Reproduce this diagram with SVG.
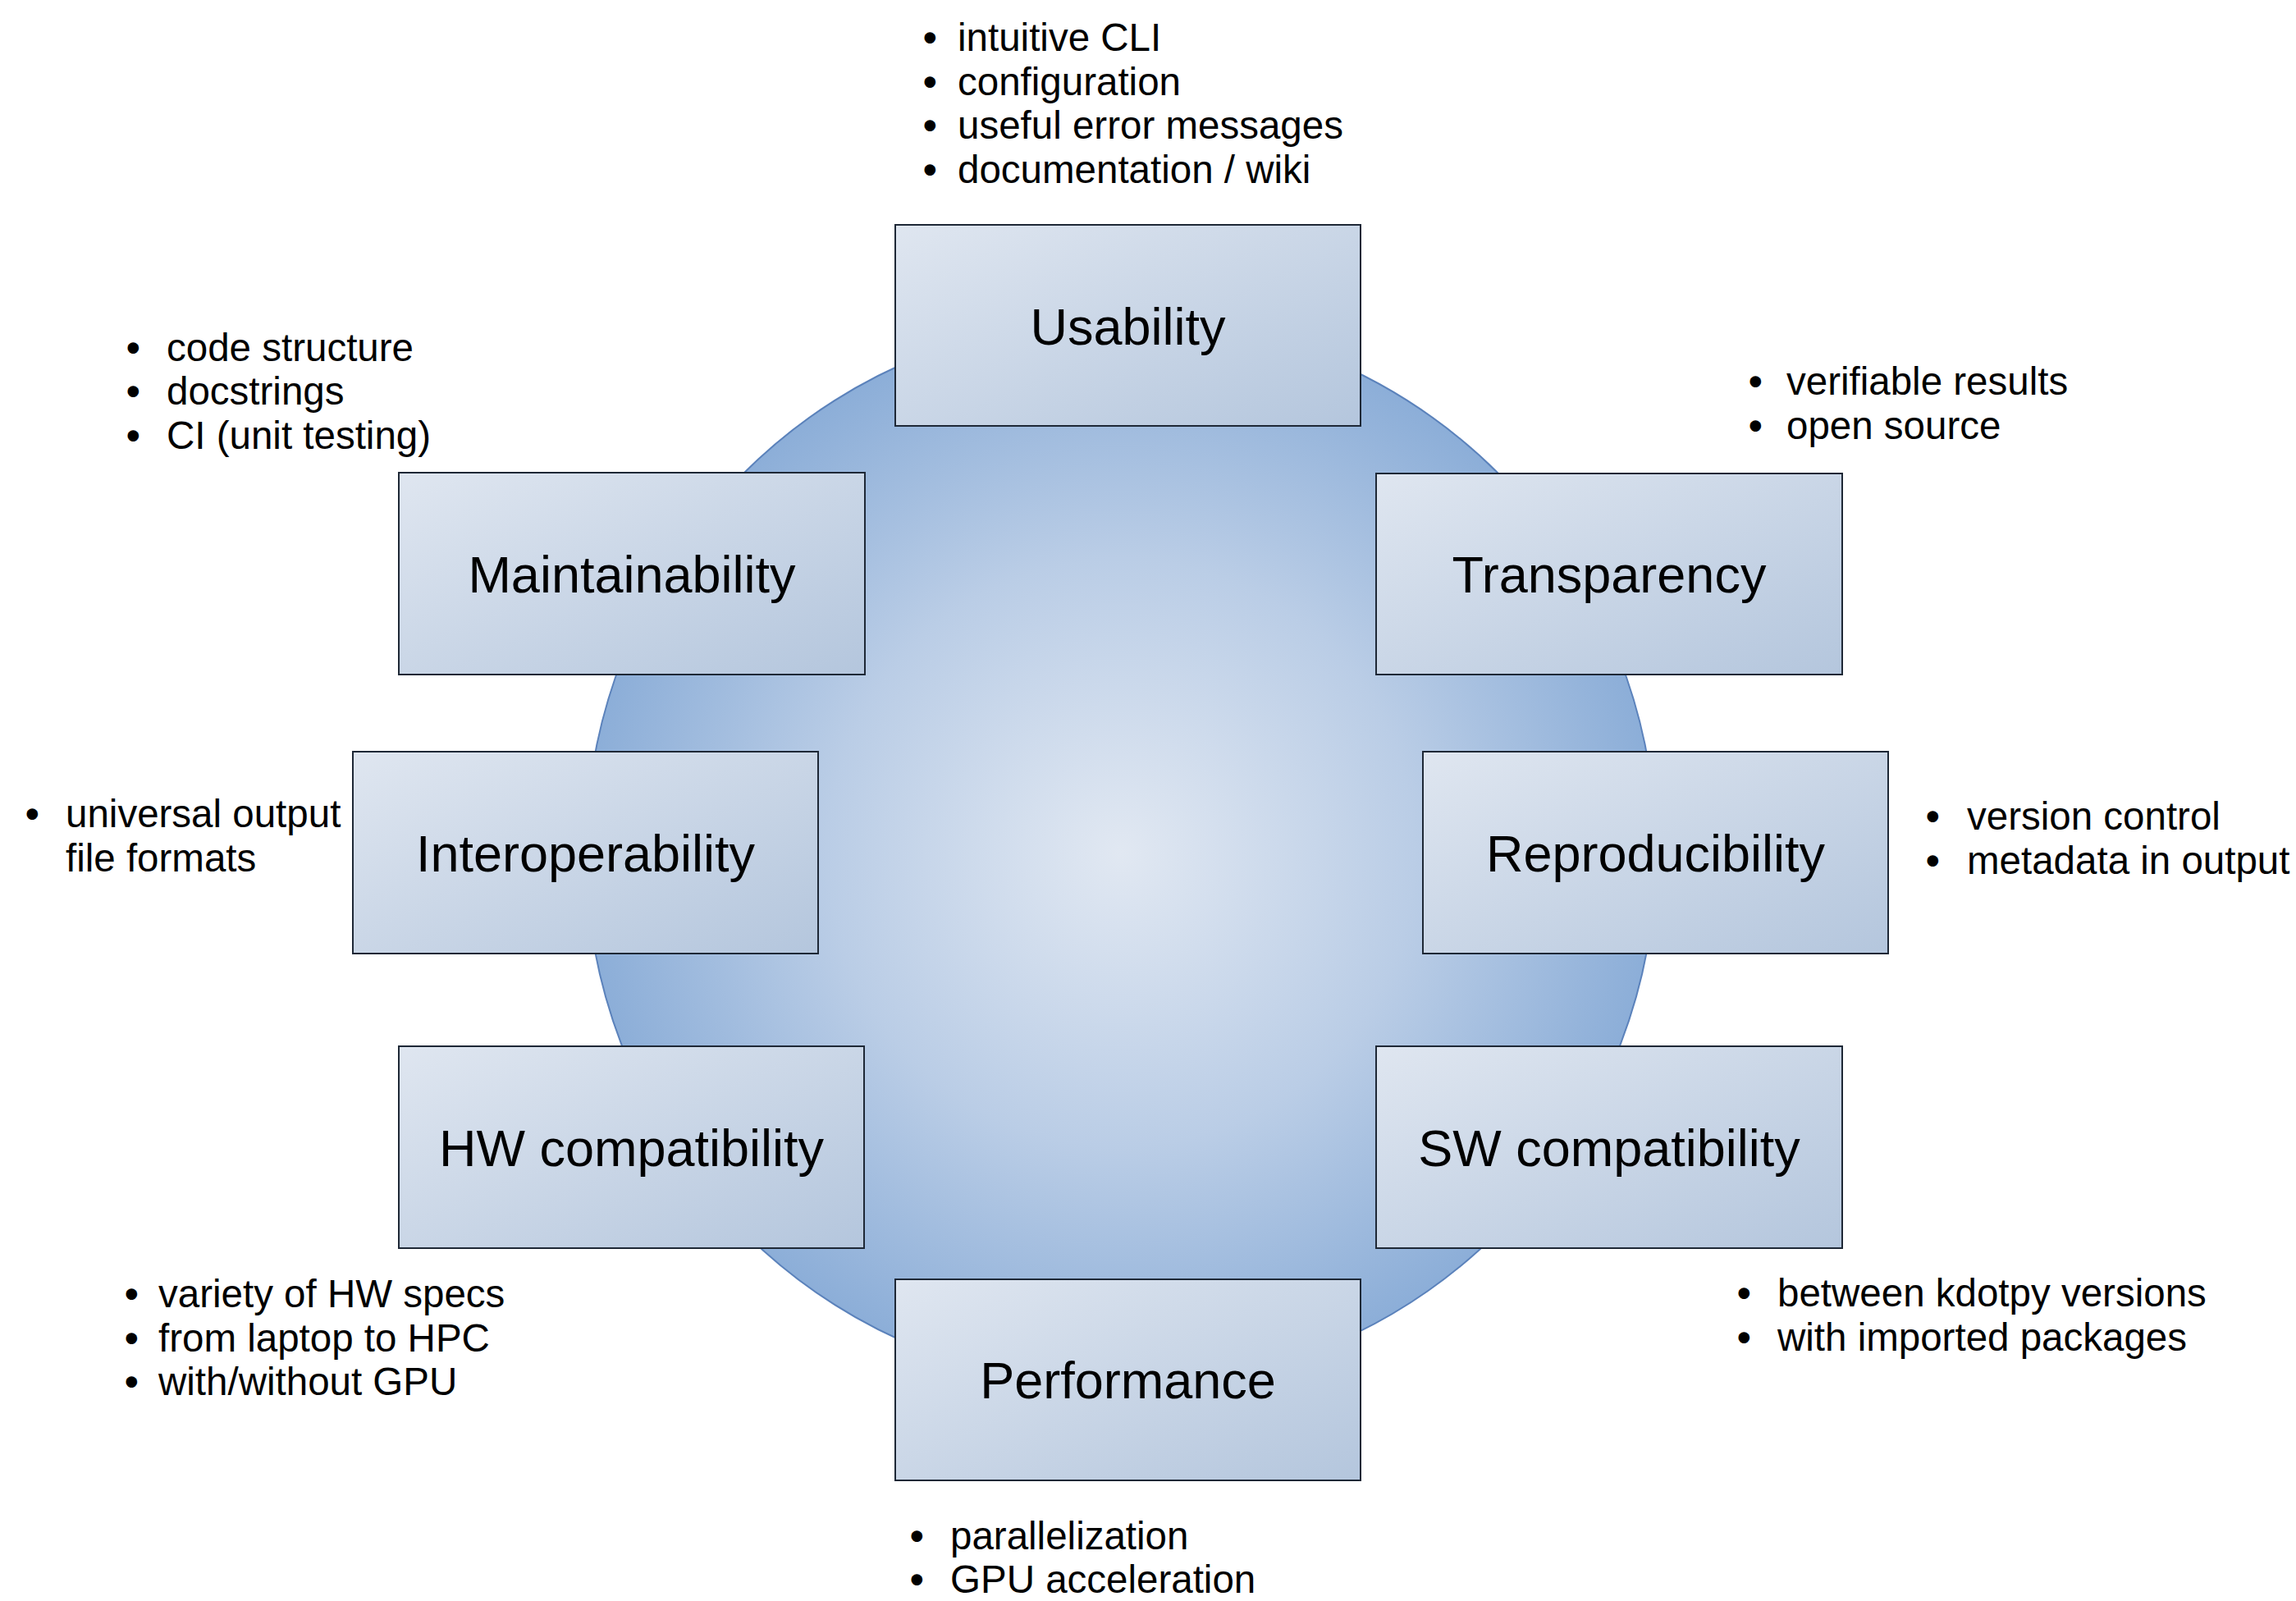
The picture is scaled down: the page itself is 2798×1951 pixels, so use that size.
<svg xmlns="http://www.w3.org/2000/svg" width="2798" height="1951" viewBox="0 0 2798 1951">
  <defs>
    <radialGradient id="discFill" cx="1366" cy="1039" r="652" gradientUnits="userSpaceOnUse">
      <stop offset="0" stop-color="#e1e8f2"/>
      <stop offset="0.55" stop-color="#bacde6"/>
      <stop offset="1" stop-color="#8caed8"/>
    </radialGradient>
    <linearGradient id="boxFill" x1="0" y1="0" x2="1" y2="1">
      <stop offset="0" stop-color="#dfe6f0"/>
      <stop offset="1" stop-color="#b4c6dd"/>
    </linearGradient>
    <style>
      .box { fill: url(#boxFill); stroke: #1e2836; stroke-width: 2; }
      .label { font-family: "Liberation Sans", Arial, sans-serif; font-size: 63px; fill: #000; text-anchor: middle; }
      .note { font-family: "Liberation Sans", Arial, sans-serif; font-size: 47.5px; fill: #000; }
      .dot { font-weight: bold; }
    </style>
  </defs>

  <rect width="2798" height="1951" fill="#ffffff"/>

  <!-- central disc -->
  <circle id="disc" cx="1366" cy="1039" r="652" fill="url(#discFill)" stroke="#5b82bb" stroke-width="2"/>

  <g id="connectors"></g>

  <!-- Usability -->
  <g id="usability">
    <rect class="box" x="1091" y="274" width="567" height="245"/>
    <text class="label" x="1374.5" y="420">Usability</text>
    <text class="note" x="1125" y="62"><tspan class="dot">•</tspan><tspan x="1167">intuitive CLI</tspan></text>
    <text class="note" x="1125" y="116"><tspan class="dot">•</tspan><tspan x="1167">configuration</tspan></text>
    <text class="note" x="1125" y="169"><tspan class="dot">•</tspan><tspan x="1167">useful error messages</tspan></text>
    <text class="note" x="1125" y="223"><tspan class="dot">•</tspan><tspan x="1167">documentation / wiki</tspan></text>
  </g>

  <!-- Maintainability -->
  <g id="maintainability">
    <rect class="box" x="486" y="576" width="568" height="246"/>
    <text class="label" x="770" y="722">Maintainability</text>
    <text class="note" x="154" y="440"><tspan class="dot">•</tspan><tspan x="203">code structure</tspan></text>
    <text class="note" x="154" y="493"><tspan class="dot">•</tspan><tspan x="203">docstrings</tspan></text>
    <text class="note" x="154" y="547"><tspan class="dot">•</tspan><tspan x="203">CI (unit testing)</tspan></text>
  </g>

  <!-- Transparency -->
  <g id="transparency">
    <rect class="box" x="1677" y="577" width="568" height="245"/>
    <text class="label" x="1961" y="722">Transparency</text>
    <text class="note" x="2131" y="481"><tspan class="dot">•</tspan><tspan x="2177">verifiable results</tspan></text>
    <text class="note" x="2131" y="535"><tspan class="dot">•</tspan><tspan x="2177">open source</tspan></text>
  </g>

  <!-- Interoperability -->
  <g id="interoperability">
    <rect class="box" x="430" y="916" width="567" height="246"/>
    <text class="label" x="713.5" y="1062">Interoperability</text>
    <text class="note" x="31" y="1008"><tspan class="dot">•</tspan><tspan x="80">universal output</tspan></text>
    <text class="note" x="80" y="1062">file formats</text>
  </g>

  <!-- Reproducibility -->
  <g id="reproducibility">
    <rect class="box" x="1734" y="916" width="567" height="246"/>
    <text class="label" x="2017.5" y="1062">Reproducibility</text>
    <text class="note" x="2347" y="1011"><tspan class="dot">•</tspan><tspan x="2397">version control</tspan></text>
    <text class="note" x="2347" y="1065"><tspan class="dot">•</tspan><tspan x="2397">metadata in output</tspan></text>
  </g>

  <!-- HW compatibility -->
  <g id="hw-compatibility">
    <rect class="box" x="486" y="1275" width="567" height="246"/>
    <text class="label" x="769.5" y="1421">HW compatibility</text>
    <text class="note" x="152" y="1593"><tspan class="dot">•</tspan><tspan x="193">variety of HW specs</tspan></text>
    <text class="note" x="152" y="1647"><tspan class="dot">•</tspan><tspan x="193">from laptop to HPC</tspan></text>
    <text class="note" x="152" y="1700"><tspan class="dot">•</tspan><tspan x="193">with/without GPU</tspan></text>
  </g>

  <!-- SW compatibility -->
  <g id="sw-compatibility">
    <rect class="box" x="1677" y="1275" width="568" height="246"/>
    <text class="label" x="1961" y="1421">SW compatibility</text>
    <text class="note" x="2117" y="1592"><tspan class="dot">•</tspan><tspan x="2166">between kdotpy versions</tspan></text>
    <text class="note" x="2117" y="1646"><tspan class="dot">•</tspan><tspan x="2166">with imported packages</tspan></text>
  </g>

  <!-- Performance -->
  <g id="performance">
    <rect class="box" x="1091" y="1559" width="567" height="245"/>
    <text class="label" x="1374.5" y="1704">Performance</text>
    <text class="note" x="1109" y="1888"><tspan class="dot">•</tspan><tspan x="1158">parallelization</tspan></text>
    <text class="note" x="1109" y="1941"><tspan class="dot">•</tspan><tspan x="1158">GPU acceleration</tspan></text>
  </g>
</svg>
